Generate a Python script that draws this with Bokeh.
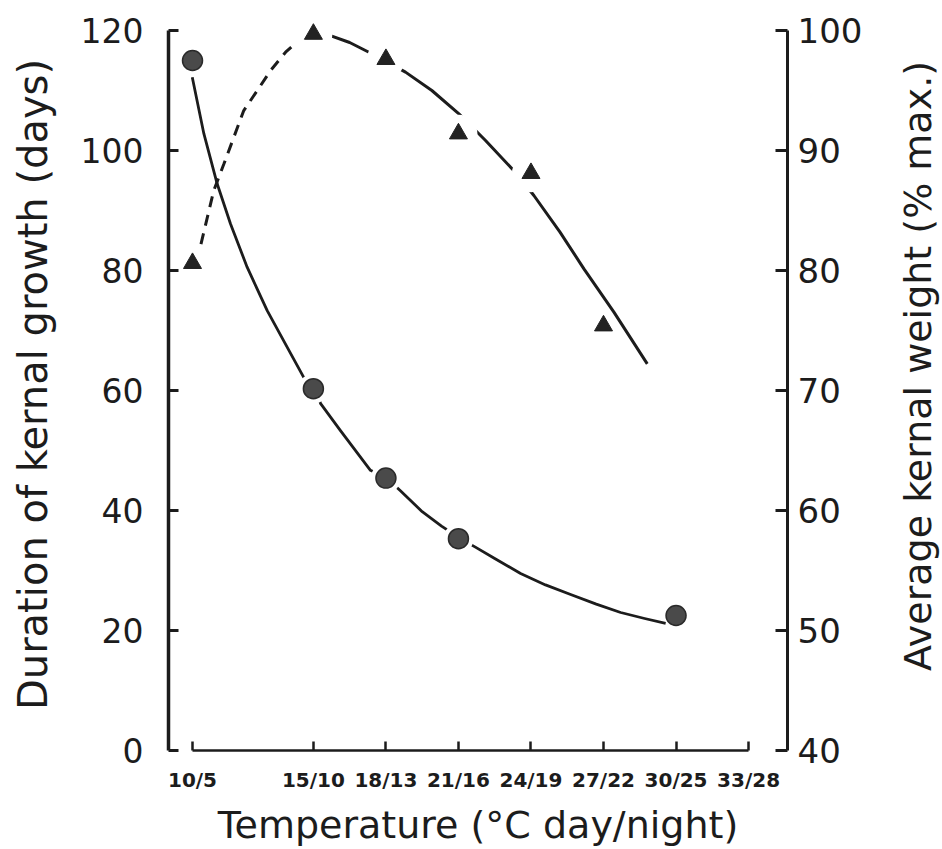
import math
from bokeh.plotting import figure
from bokeh.layouts import row
from bokeh.models import LinearAxis, Range1d, FixedTicker
from bokeh.core.properties import value
from bokeh.embed import file_html
from bokeh.resources import INLINE

# ---- data ----
temp_day = [10, 15, 18, 21, 24, 27, 30, 33]
temp_labels = ["10/5", "15/10", "18/13", "21/16", "24/19", "27/22", "30/25", "33/28"]

# Duration of kernel growth (days), left axis
dur_x = [10, 15, 18, 21, 30]
dur_y = [115, 60.3, 45.4, 35.3, 22.5]

# Average kernel weight (% max.), right axis
wt_x = [10, 15, 18, 21, 24, 27]
wt_y = [80.6, 99.7, 97.6, 91.4, 88.1, 75.4]

# fitted curve for duration (solid)
dur_curve_x = [9.99, 10.47, 11.02, 11.57, 12.26, 13.09, 13.92, 14.60, 15.09, 15.30,
               16.12, 17.36, 18.03, 18.6, 19.5, 20.3, 21.09, 21.7, 22.5, 23.57,
               24.6, 25.64, 26.7, 27.71, 28.7, 29.57]
dur_curve_y = [112.2, 102.8, 94.45, 87.8, 80.55, 73.3, 67.2, 62.2, 60.3, 57.8,
               53.3, 46.7, 45.4, 43.3, 39.8, 37.4, 35.3, 33.9, 32.0, 29.5,
               27.6, 26.0, 24.4, 23.0, 22.0, 21.2]

# fitted curve for weight: dashed part and solid part
wt_dash_x = [10.35, 10.88, 11.30, 11.71, 12.12, 12.68, 13.23, 13.85, 14.39, 14.96]
wt_dash_y = [82.2, 86.67, 88.89, 91.11, 93.33, 95.0, 96.67, 98.19, 99.17, 99.75]
wt_curve_x = [14.96, 15.5, 16.5, 17.5, 18.81, 19.9, 21.02, 22.12, 23.41, 24.12,
              25.2, 26.19, 27.43, 28.81]
wt_curve_y = [99.75, 99.72, 99.0, 97.98, 96.53, 95.0, 93.06, 90.83, 88.06, 86.25,
              83.2, 80.14, 76.53, 72.22]

right_title = "Average kernal weight (% max.)"

INK = "#1c1c1c"
FONT = "DejaVu Sans"

p = figure(width=880, height=849,
           x_range=Range1d(9.007, 34.61), y_range=Range1d(0, 122),
           output_backend="svg", toolbar_location=None,
           min_border_left=168, min_border_right=93,
           min_border_top=18, min_border_bottom=99,
           x_axis_location="below", y_axis_location="left")
p.extra_y_ranges = {"wt": Range1d(40, 101)}
p.outline_line_color = None
p.xgrid.visible = False
p.ygrid.visible = False
p.background_fill_color = "white"
p.border_fill_color = "white"

# x axis
xa = p.xaxis[0]
xa.ticker = FixedTicker(ticks=temp_day)
xa.major_label_overrides = {t: l for t, l in zip(temp_day, temp_labels)}
xa.bounds = (temp_day[0], temp_day[-1])
xa.major_tick_in = 9
xa.major_tick_out = 0
xa.minor_tick_line_color = None
xa.axis_line_width = 2.5
xa.major_tick_line_width = 2.5
xa.axis_line_color = INK
xa.major_tick_line_color = INK
xa.major_label_text_font = FONT
xa.major_label_text_font_style = "bold"
xa.major_label_text_font_size = "20px"
xa.major_label_text_color = INK
xa.major_label_standoff = 17
xa.axis_label = "Temperature (°C day/night)"
xa.axis_label_text_font = FONT
xa.axis_label_text_font_style = "normal"
xa.axis_label_text_font_size = "38px"
xa.axis_label_text_color = INK
xa.axis_label_standoff = 8

# left axis
ya = p.yaxis[0]
ya.ticker = FixedTicker(ticks=[0, 20, 40, 60, 80, 100, 120])
ya.bounds = (0, 120)
ya.major_tick_in = 10
ya.major_tick_out = 0
ya.minor_tick_line_color = None
ya.axis_line_width = 3.5
ya.major_tick_line_width = 3
ya.axis_line_color = INK
ya.major_tick_line_color = INK
ya.major_label_text_font = FONT
ya.major_label_text_font_size = "33px"
ya.major_label_text_color = INK
ya.major_label_standoff = 25
ya.axis_label = "Duration of kernal growth (days)"
ya.axis_label_text_font = FONT
ya.axis_label_text_font_style = "normal"
ya.axis_label_text_font_size = "40px"
ya.axis_label_text_color = INK
ya.axis_label_standoff = 22

# right axis
ra = LinearAxis(y_range_name="wt", ticker=FixedTicker(ticks=[40, 50, 60, 70, 80, 90, 100]))
ra.bounds = (40, 100)
ra.major_tick_in = 12
ra.major_tick_out = 0
ra.minor_tick_line_color = None
ra.axis_line_width = 3
ra.major_tick_line_width = 3
ra.axis_line_color = INK
ra.major_tick_line_color = INK
ra.major_label_text_font = FONT
ra.major_label_text_font_size = "34px"
ra.major_label_text_color = INK
ra.major_label_standoff = 10
p.add_layout(ra, "right")

# curves
p.line(dur_curve_x, dur_curve_y, line_color=INK, line_width=2.8, line_join="round")
p.line(wt_dash_x, wt_dash_y, y_range_name="wt", line_color=INK, line_width=3,
       line_dash="11 8")
p.line(wt_curve_x, wt_curve_y, y_range_name="wt", line_color=INK, line_width=3,
       line_join="round")

# white halos that open gaps in the curves around markers
p.scatter(dur_x[1:4], dur_y[1:4], marker="circle", size=30,
          fill_color="white", line_color=None)
p.scatter(wt_x[1:5], wt_y[1:5], y_range_name="wt", marker="circle", size=38,
          fill_color="white", line_color=None)

# markers
p.scatter(dur_x, dur_y, marker="circle", size=20, fill_color="#4a4a4a",
          line_color="#2a2a2a", line_width=1.5)
p.scatter(wt_x, wt_y, y_range_name="wt", marker="triangle", size=18,
          fill_color="#222222", line_color="#222222")

# narrow strip to the right carrying the right-axis title (reads bottom to top)
side = figure(width=62, height=849, x_range=Range1d(0, 62), y_range=Range1d(0, 849),
              output_backend="svg", toolbar_location=None, min_border=0)
side.axis.visible = False
side.xgrid.visible = False
side.ygrid.visible = False
side.outline_line_color = None
side.background_fill_color = "white"
side.border_fill_color = "white"
side.text(x=[37], y=[446], text=[right_title], angle=math.pi / 2,
          text_align="center", text_baseline="middle",
          text_font=value(FONT), text_font_size="38px", text_color=INK)

layout = row(p, side, spacing=0)
open("out.html", "w").write(file_html(layout, INLINE))
